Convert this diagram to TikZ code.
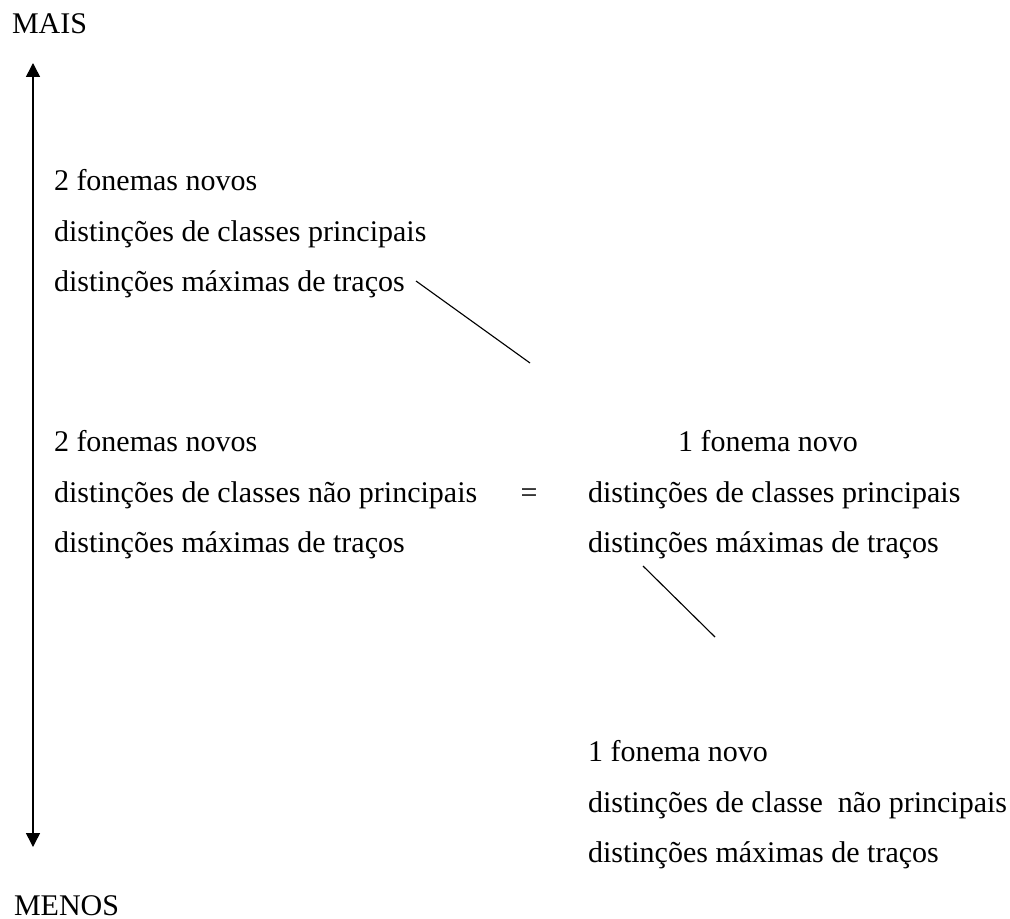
\documentclass[tikz,border=0pt]{standalone}
\usepackage{fontspec}
\setmainfont{Liberation Serif}
\usetikzlibrary{arrows.meta}
\tikzset{
  txt/.style={anchor=base west, inner sep=0pt, outer sep=0pt, font=\fontsize{12pt}{14pt}\selectfont},
  axis/.style={line width=0.6pt, {Triangle[width=5.6pt,length=5.6pt]}-{Triangle[width=5.6pt,length=5.6pt]}},
  link/.style={line width=0.45pt}
}
\begin{document}
\begin{tikzpicture}[x=0.4pt, y=-0.4pt]
\useasboundingbox (0,0) rectangle (1010,918);
% axis labels
\node[txt] (mais) at (12,34) {MAIS};
\node[txt] (menos) at (14,915) {MENOS};
\coordinate (atop) at (33,63);
\coordinate (abot) at (33,847);
\draw[axis] (abot) -- (atop);
% block 1
\node[txt] (b1a) at (54,191) {2 fonemas novos};
\node[txt] (b1b) at (54,241.5) {distinções de classes principais};
\node[txt] (b1c) at (54,292) {distinções máximas de traços};
% block 2 left
\node[txt] (b2a) at (54,451) {2 fonemas novos};
\node[txt] (b2b) at (54,502) {distinções de classes não principais};
\node[txt] (b2c) at (54,552) {distinções máximas de traços};
\node[txt, anchor=base] (eq) at (529,502) {=};
% block 2 right
\node[txt] (r2a) at (678,451) {1 fonema novo};
\node[txt] (r2b) at (588,502) {distinções de classes principais};
\node[txt] (r2c) at (588,552) {distinções máximas de traços};
% block 3
\node[txt] (b3a) at (588,761) {1 fonema novo};
\node[txt] (b3b) at (588,812) {distinções de classe\ \ não principais};
\node[txt] (b3c) at (588,862) {distinções máximas de traços};
% connectors
\coordinate (l1a) at (416,281);
\coordinate (l1b) at (530,363);
\draw[link] (l1a) -- (l1b);
\coordinate (l2a) at (643,566);
\coordinate (l2b) at (715,637);
\draw[link] (l2a) -- (l2b);
\end{tikzpicture}
\end{document}
